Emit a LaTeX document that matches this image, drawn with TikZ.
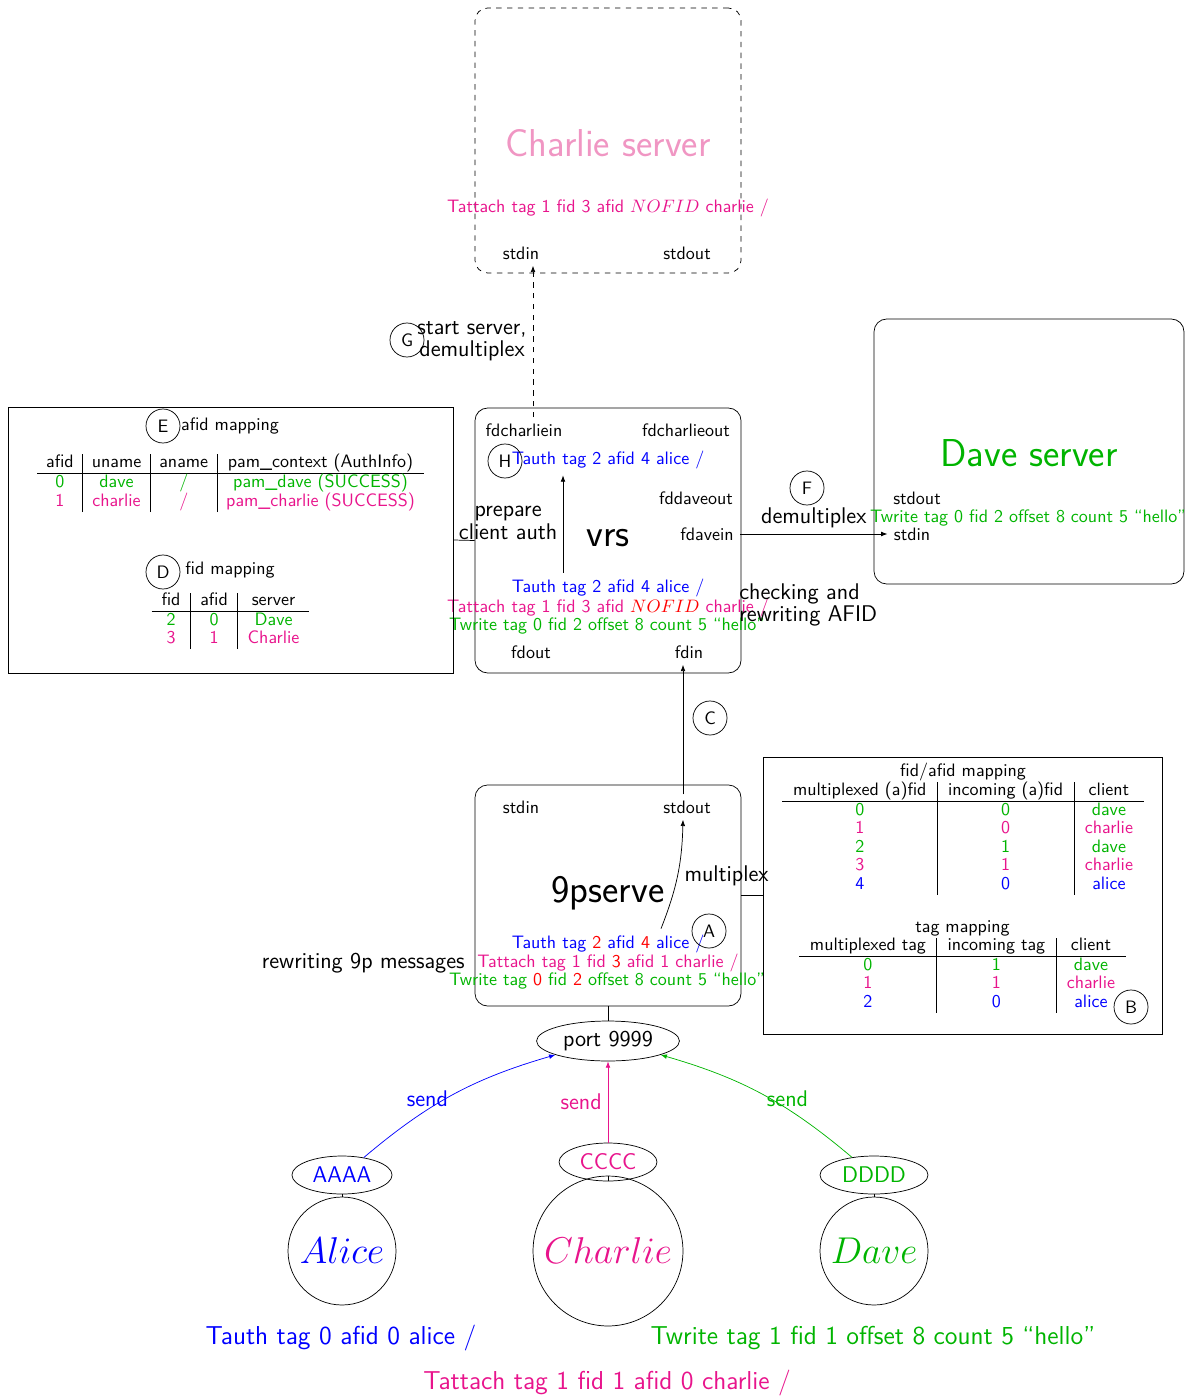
\documentclass[tikz,border=0pt]{standalone}
\usetikzlibrary{shapes.geometric,arrows.meta}
\renewcommand{\familydefault}{\sfdefault}
\definecolor{cblue}{RGB}{0,0,255}
\definecolor{cgreen}{RGB}{0,180,0}
\definecolor{cpink}{RGB}{232,20,140}
\definecolor{chlight}{RGB}{240,150,195}
\newcommand{\grn}[1]{\textcolor{cgreen}{#1}}
\newcommand{\pnk}[1]{\textcolor{cpink}{#1}}
\newcommand{\blu}[1]{\textcolor{cblue}{#1}}
\newcommand{\rd}[1]{\textcolor{red}{#1}}
\newcommand{\lbsize}{\fontsize{12.6}{15}\selectfont}
\newcommand{\ttlsize}{\fontsize{21.6}{26}\selectfont}
\setlength{\tabcolsep}{5pt}
\begin{document}
\begin{tikzpicture}[x=0.5556pt,y=-0.5556pt,
  >={Latex[length=3.5pt,width=2.6pt]},
  procbox/.style={draw, rounded corners=7pt, minimum width=147.8pt, minimum height=147.2pt, inner sep=0pt},
  tabbox/.style={draw, inner sep=0pt},
  letter/.style={draw, circle, minimum size=18.9pt, inner sep=0pt},
  bigtxt/.style={font=\lbsize},
  ttl/.style={font=\ttlsize},
  client/.style={draw, circle, inner sep=0pt, font=\ttlsize},
  key/.style={draw, ellipse, inner sep=0pt, minimum height=21.1pt, font=\lbsize}]
\useasboundingbox (0,0) rectangle (1196,1399);

% ---------- Charlie server ----------
\node[procbox, dashed] (chBox) at (608,140.5) {};
\node[ttl, text=chlight] (chTitle) at (608,143) {Charlie server};
\node[text=cpink] (chMsg) at (608,208) {Tattach tag 1 fid 3 afid $NOFID$ charlie $/$};
\node (chStdin) at (521,253) {stdin};
\node (chStdout) at (687,253) {stdout};

% ---------- vrs ----------
\node[procbox] (vrsBox) at (608,540.5) {};
\node[ttl] (vrsTitle) at (608,538) {vrs};
\node (vrsFdcIn) at (524,430) {fdcharliein};
\node (vrsFdcOut) at (686,430) {fdcharlieout};
\node (vrsFddOut) at (696,498) {fddaveout};
\node (vrsFdavein) at (707,534) {fdavein};
\node (vrsFdout) at (531,652) {fdout};
\node (vrsFdin) at (689,652) {fdin};
\node[text=cblue] (vrsTauthHigh) at (608,460) {Tauth tag 2 afid 4 alice $/$};
\node[text=cblue] (vrsTauthLow) at (608,588) {Tauth tag 2 afid 4 alice $/$};
\node[text=cpink] (vrsTattach) at (608,608) {Tattach tag 1 fid 3 afid \rd{$NOFID$} charlie $/$};
\node[text=cgreen] (vrsTwrite) at (607,626) {Twrite tag 0 fid 2 offset 8 count 5 “hello”};
\node[letter] (cH) at (505,461) {H};

% ---------- Dave server ----------
\node[procbox, minimum width=172.2pt] (daveBox) at (1029,451.5) {};
\node[ttl, text=cgreen] (daveTitle) at (1029,453) {Dave server};
\node (daveStdout) at (917,498) {stdout};
\node[text=cgreen] (daveMsg) at (1028,518) {Twrite tag 0 fid 2 offset 8 count 5 “hello”};
\node (daveStdin) at (912,534) {stdin};

% ---------- 9pserve ----------
\node[procbox, minimum height=122.8pt] (pserveBox) at (608,895.5) {};
\node[ttl] (psTitle) at (608,893) {9pserve};
\node (psStdin) at (521,807) {stdin};
\node (psStdout) at (687,807) {stdout};
\node[text=cblue] (psTauth) at (608,944) {Tauth tag \rd{2} afid \rd{4} alice $/$};
\node[text=cpink] (psTattach) at (608,963) {Tattach tag 1 fid \rd{3} afid 1 charlie $/$};
\node[text=cgreen] (psTwrite) at (607,981) {Twrite tag \rd{0} fid \rd{2} offset 8 count 5 “hello”};
\node[letter] (cA) at (709,931) {A};
\node[bigtxt, anchor=east] (psLbl) at (psTattach.west) {rewriting 9p messages};

% ---------- vrs tables ----------
\node[tabbox, minimum width=247.2pt, minimum height=147.8pt] (leftBox) at (230.5,540) {};
\node (afidTitle) at (230,426) {afid mapping};
\node[letter] (cE) at (163,426) {E};
\node[inner sep=0pt] (afidTab) at (230.5,483) {\renewcommand{\arraystretch}{0.88}%
  \begin{tabular}{c|c|c|c}
  afid & uname & aname & pam\_context (AuthInfo)\\ \hline
  \grn{0} & \grn{dave} & \grn{$/$} & \grn{pam\_dave (SUCCESS)}\\
  \pnk{1} & \pnk{charlie} & \pnk{$/$} & \pnk{pam\_charlie (SUCCESS)}
  \end{tabular}};
\node (fidTitle) at (230,570) {fid mapping};
\node[letter] (cD) at (163,572) {D};
\node[inner sep=0pt] (fidTab) at (230.5,621) {\renewcommand{\arraystretch}{0.86}\setlength{\tabcolsep}{5.5pt}%
  \begin{tabular}{c|c|c}
  fid & afid & server\\ \hline
  \grn{2} & \grn{0} & \grn{Dave}\\
  \pnk{3} & \pnk{1} & \pnk{Charlie}
  \end{tabular}};

% ---------- 9pserve tables ----------
\node[tabbox, minimum width=221.7pt, minimum height=153.9pt] (rightBox) at (962.5,895.5) {};
\node[inner sep=0pt] (muxTab) at (963,829) {\renewcommand{\arraystretch}{0.86}\setlength{\tabcolsep}{6pt}%
  \begin{tabular}{c|c|c}
  \multicolumn{3}{c}{fid/afid mapping}\\
  multiplexed (a)fid & incoming (a)fid & client\\ \hline
  \grn{0} & \grn{0} & \grn{dave}\\
  \pnk{1} & \pnk{0} & \pnk{charlie}\\
  \grn{2} & \grn{1} & \grn{dave}\\
  \pnk{3} & \pnk{1} & \pnk{charlie}\\
  \blu{4} & \blu{0} & \blu{alice}
  \end{tabular}};
\node[inner sep=0pt] (tagTab) at (962.5,966) {\renewcommand{\arraystretch}{0.86}\setlength{\tabcolsep}{6pt}%
  \begin{tabular}{c|c|c}
  \multicolumn{3}{c}{tag mapping}\\
  multiplexed tag & incoming tag & client\\ \hline
  \grn{0} & \grn{1} & \grn{dave}\\
  \pnk{1} & \pnk{1} & \pnk{charlie}\\
  \blu{2} & \blu{0} & \blu{alice}
  \end{tabular}};
\node[letter] (cB) at (1131,1007) {B};

% ---------- free labels and markers ----------
\node[bigtxt, align=left, anchor=west] (chkLbl) at (733,605) {checking and\\[-2.8pt]rewriting AFID};
\node[letter] (cC) at (710,718) {C};
\node[letter] (cF) at (807,488) {F};
\node[letter] (cG) at (407,340) {G};

% ---------- port and clients ----------
\node[draw, ellipse, minimum width=79.4pt, minimum height=22.2pt, inner sep=0pt, font=\lbsize] (port) at (608,1041) {port 9999};
\node[key, minimum width=55.6pt, text=cblue] (aaaa) at (342,1175) {AAAA};
\node[key, minimum width=54.4pt, text=cpink] (cccc) at (608,1162) {CCCC};
\node[key, minimum width=60pt, text=cgreen] (dddd) at (874,1175) {DDDD};
\node[client, minimum size=60pt, text=cblue] (alice) at (342,1251) {$Alice$};
\node[client, minimum size=83.3pt, text=cpink] (charlie) at (608,1251) {$Charlie$};
\node[client, minimum size=60pt, text=cgreen] (dave) at (874,1251) {$Dave$};
\node[font=\Large, text=cblue] (aliceMsg) at (341,1338) {Tauth tag 0 afid 0 alice $/$};
\node[font=\Large, text=cgreen] (daveCMsg) at (873,1338) {Twrite tag 1 fid 1 offset 8 count 5 “hello”};
\node[font=\Large, text=cpink] (charlieMsg) at (607,1383) {Tattach tag 1 fid 1 afid 0 charlie $/$};

% ---------- connectors ----------
\coordinate (dashX) at (533,0);
\coordinate (cX) at (683,0);
\coordinate (aX) at (661,0);
\coordinate (upX) at (563,0);

\draw[->, dashed] (vrsFdcIn.north -| dashX) -- node[left, bigtxt, align=center] {start server,\\[-2.8pt]demultiplex} (chStdin.south -| dashX);
\draw[->] (vrsTauthLow.north -| upX) -- (vrsTauthHigh.south -| upX);
\draw (leftBox.east) -- node[anchor=south west, inner sep=0pt, xshift=-3pt, bigtxt, align=center] {prepare\\[-2pt]client auth} (vrsBox.west);
\draw[->] (vrsFdavein.east) -- node[above, bigtxt] {demultiplex} (daveStdin.west);
\draw[->] (psStdout.north -| cX) -- (vrsFdin.south -| cX);
\draw[->] (psTauth.north -| aX) to[bend right=10] (psStdout.south -| cX);
\draw (pserveBox.east) -- node[pos=1, anchor=south east, inner sep=0pt, xshift=3.5pt, yshift=5pt, bigtxt] {multiplex} (rightBox.west);
\draw (pserveBox.south) -- (port.north);

\draw[->, cblue] (aaaa) to[bend left=12] node[pos=0.4, above left, inner sep=0pt, xshift=7pt, yshift=-1.5pt, bigtxt] {send} (port);
\draw[->, cpink] (cccc) -- node[left, bigtxt] {send} (port);
\draw[->, cgreen] (dddd) to[bend right=12] node[pos=0.4, above right, inner sep=0pt, xshift=-7.5pt, yshift=-1.5pt, bigtxt] {send} (port);
\draw (aaaa.south) -- (alice.north);
\draw (cccc.south) -- (charlie.north);
\draw (dddd.south) -- (dave.north);
\end{tikzpicture}
\end{document}
